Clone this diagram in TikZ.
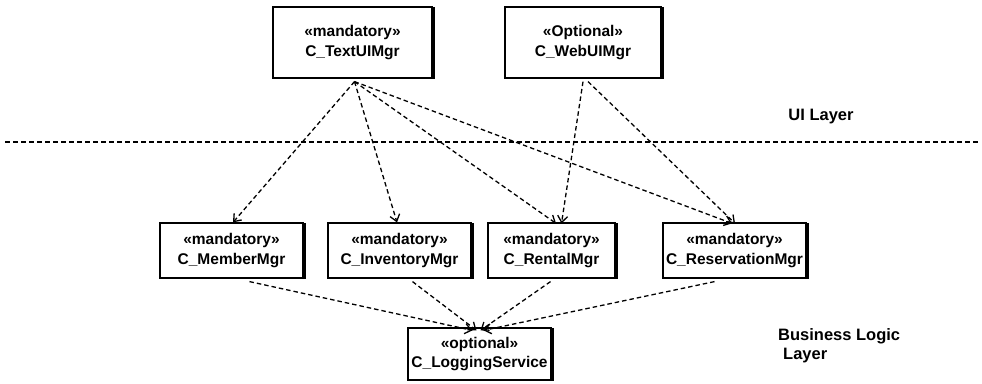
\documentclass[tikz,border=0pt]{standalone}
\usepackage{fontspec}
\setmainfont{Liberation Sans}
\usetikzlibrary{arrows.meta}
\begin{document}
\begin{tikzpicture}[x=1pt,y=-1pt,
  comp/.style={draw=black,line width=1.2pt,fill=white,align=center,inner sep=0pt,
    font=\fontsize{15.5}{19.5}\selectfont\bfseries},
  shadowedge/.style={line width=2.2pt,line cap=rect},
  dep/.style={line width=1.3pt,dash pattern=on 4.5pt off 3pt,
    -{Straight Barb[length=6.5pt,width=10pt,line width=1.3pt]}},
  layerlbl/.style={font=\fontsize{16.5}{19}\selectfont\bfseries,inner sep=0pt},
  sep/.style={line width=1.5pt,dash pattern=on 5pt off 3pt}]
\useasboundingbox (0,0) rectangle (982,383);
% separator
\coordinate (sepL) at (5,142);
\coordinate (sepR) at (980,142);
\draw[sep] (sepL) -- (sepR);
% top layer
\node[comp,minimum width=159pt,minimum height=71pt] (text) at (352.5,42.5) {«mandatory»\\C\_TextUIMgr};
\node[comp,minimum width=156pt,minimum height=71pt] (web) at (583,42.5) {«Optional»\\C\_WebUIMgr};
% business layer
\node[comp,minimum width=143pt,minimum height=55pt] (member) at (231.5,250.5) {«mandatory»\\C\_MemberMgr};
\node[comp,minimum width=143pt,minimum height=55pt] (inventory) at (399.5,250.5) {«mandatory»\\C\_InventoryMgr};
\node[comp,minimum width=127pt,minimum height=55pt] (rental) at (551.5,250.5) {«mandatory»\\C\_RentalMgr};
\node[comp,minimum width=143pt,minimum height=55pt] (reservation) at (734.5,250.5) {«mandatory»\\C\_ReservationMgr};
\node[comp,minimum width=143pt,minimum height=52pt] (logging) at (479.5,354) {«optional»\\C\_LoggingService};
% heavier right and bottom edges
\foreach \n in {text,web,member,inventory,rental,reservation,logging}
  \draw[shadowedge] ([xshift=1pt,yshift=-2pt]\n.north east) -- ([xshift=1pt,yshift=1pt]\n.south east) -- ([xshift=2pt,yshift=1pt]\n.south west);
% labels
\node[layerlbl] (uil) at (821,117) {UI Layer};
\node[layerlbl,anchor=west,align=left] (bll) at (778,346) {Business Logic\\\hspace{5pt}Layer};
% dependencies from UI layer
\draw[dep] ([xshift=2pt,yshift=-3pt]text.south) -- ([xshift=1.5pt]member.north);
\draw[dep] ([xshift=2pt,yshift=-3pt]text.south) -- ([xshift=-2.5pt]inventory.north);
\draw[dep] ([xshift=2pt,yshift=-3pt]text.south) -- ([xshift=4.5pt,yshift=-1pt]rental.north);
\draw[dep] ([xshift=2pt,yshift=-3pt]text.south) -- ([xshift=-2.5pt,yshift=-1pt]reservation.north);
\draw[dep] ([yshift=-3pt]web.south) -- ([xshift=10pt,yshift=-1pt]rental.north);
\draw[dep] ([xshift=5pt,yshift=-3pt]web.south) -- ([xshift=0.5pt,yshift=-1pt]reservation.north);
% dependencies to logging
\draw[dep] ([xshift=18pt,yshift=-3pt]member.south) -- ([xshift=-7pt,yshift=-3pt]logging.north);
\draw[dep] ([xshift=13pt,yshift=-3pt]inventory.south) -- ([xshift=-3pt,yshift=-3pt]logging.north);
\draw[dep] ([xshift=-1pt,yshift=-3pt]rental.south) -- ([xshift=1pt,yshift=-3pt]logging.north);
\draw[dep] ([xshift=-20pt,yshift=-3pt]reservation.south) -- ([xshift=4pt,yshift=-3pt]logging.north);
\end{tikzpicture}
\end{document}
